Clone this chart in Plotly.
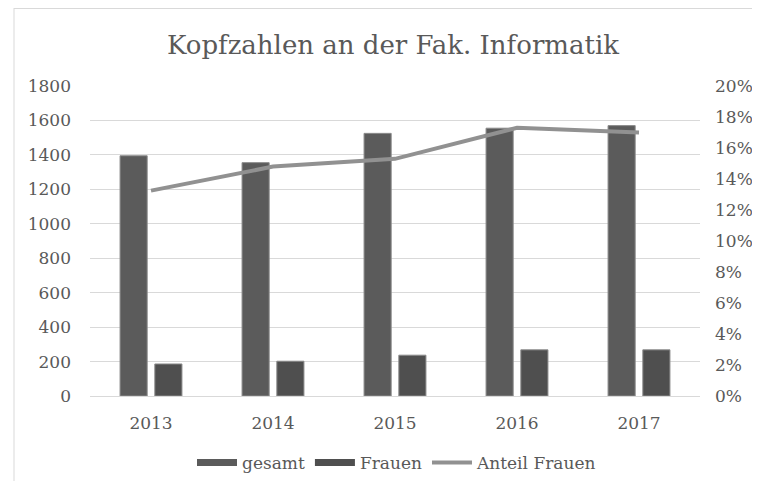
import plotly.graph_objects as go

years = ["2013", "2014", "2015", "2016", "2017"]
gesamt = [1395, 1355, 1525, 1555, 1570]
frauen = [186, 202, 237, 268, 268]
anteil = [0.1325, 0.148, 0.153, 0.173, 0.170]

FONT = "DejaVu Serif"
TXT = "#595959"
C_GES = "#5b5b5b"
C_FRA = "#4f4f4f"
C_LINE = "#919191"

fig = go.Figure()
fig.add_trace(go.Bar(x=years, y=gesamt, name="gesamt", showlegend=False, legendgroup="g",
                     marker=dict(color=C_GES, line=dict(color="#8c8c8c", width=1))))
fig.add_trace(go.Bar(x=years, y=frauen, name="Frauen", showlegend=False, legendgroup="f",
                     marker=dict(color=C_FRA, line=dict(color="#8c8c8c", width=1))))
fig.add_trace(go.Scatter(x=years, y=anteil, name="Anteil Frauen", yaxis="y2",
                         mode="lines", line=dict(color=C_LINE, width=4), showlegend=False,
                         legendgroup="a"))
# legend-only entries (wide swatches like the original)
fig.add_trace(go.Scatter(x=[None], y=[None], name="gesamt", mode="lines", legendgroup="g",
                         line=dict(color=C_GES, width=7)))
fig.add_trace(go.Scatter(x=[None], y=[None], name="Frauen", mode="lines", legendgroup="f",
                         line=dict(color=C_FRA, width=7)))
fig.add_trace(go.Scatter(x=[None], y=[None], name="Anteil Frauen", mode="lines",
                         legendgroup="a", yaxis="y2", line=dict(color=C_LINE, width=4)))

S = 8  # browser body margin offset
W, H = 760 - 2 * S, 489 - 2 * S
L, R, T, B = 90 - S, 700 - S, 86 - S, 396 - S
px = lambda v: (v - S - L) / (R - L)          # screen x -> paper x
py = lambda v: (B - (v - S)) / (B - T)        # screen y -> paper y
fig.update_layout(
    width=W, height=H,
    margin=dict(l=L, r=W - R, t=T, b=H - B, autoexpand=False),
    paper_bgcolor="white", plot_bgcolor="white",
    font=dict(family=FONT, size=17, color=TXT),
    title=dict(text="Kopfzahlen an der Fak. Informatik", x=(393 - S) / W, xanchor="center",
               y=1 - (45 - S) / H, yanchor="middle", yref="container",
               font=dict(family=FONT, size=26, color=TXT)),
    barmode="group", bargap=0.43, bargroupgap=0.22,
    xaxis=dict(showgrid=False, showline=True, linecolor="#d9d9d9", linewidth=1,
               ticks="", ticklabelstandoff=12, automargin=False),
    yaxis=dict(range=[0, 1800], dtick=200, showgrid=True, gridcolor="#d9d9d9",
               gridwidth=1, zeroline=False, ticks="", ticklabelstandoff=18,
               automargin=False),
    yaxis2=dict(range=[0, 0.2], dtick=0.02, tickformat=".0%", overlaying="y",
                side="right", showgrid=False, zeroline=False, ticks="",
                ticklabelstandoff=14, automargin=False),
    legend=dict(orientation="h", x=px(397), xanchor="center",
                y=py(463), yanchor="middle", itemwidth=40,
                font=dict(family=FONT, size=17, color=TXT), traceorder="normal"),
    shapes=[
        dict(type="line", xref="paper", yref="paper", x0=px(14), x1=px(14),
             y0=py(489 + 40), y1=py(8), line=dict(color="#d9d9d9", width=1)),
        dict(type="line", xref="paper", yref="paper", x0=px(14), x1=px(800),
             y0=py(8.5), y1=py(8.5), line=dict(color="#d9d9d9", width=1)),
    ],
)

fig.write_html("out.html")
